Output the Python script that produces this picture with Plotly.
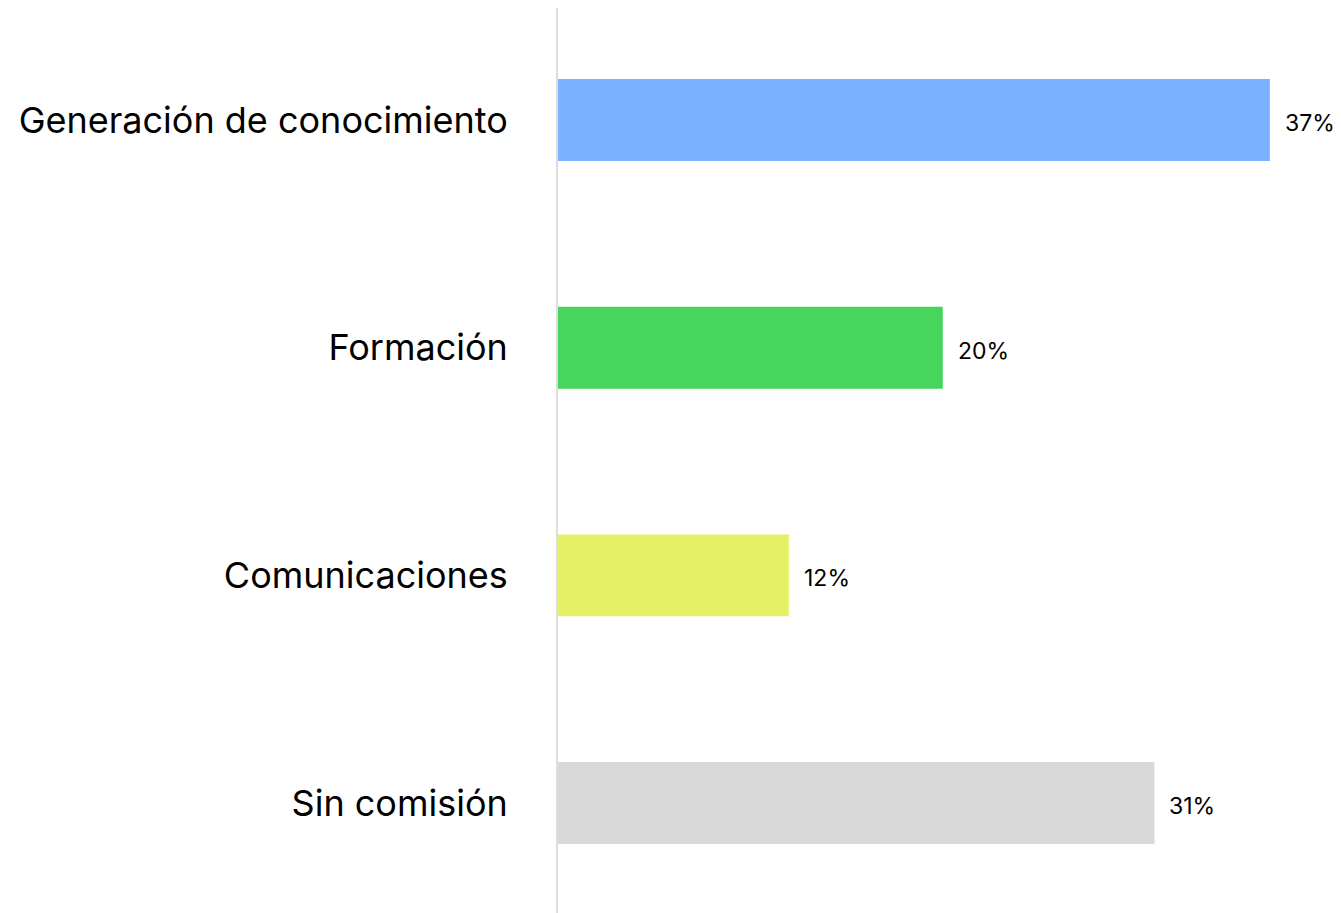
import plotly.graph_objects as go

categories = ["Generación de conocimiento", "Formación", "Comunicaciones", "Sin comisión"]
values = [37, 20, 12, 31]
value_labels = ["37%", "20%", "12%", "31%"]
colors = ["#7AB2FF", "#48D55E", "#E5F066", "#D9D9D9"]

FONT = "Inter, Lato, 'Open Sans', sans-serif"

fig = go.Figure(
    go.Bar(
        y=categories,
        x=values,
        orientation="h",
        marker=dict(color=colors, line=dict(width=0)),
        width=0.36,
        hoverinfo="skip",
    )
)

for c, v, t in zip(categories, values, value_labels):
    fig.add_annotation(
        x=v, y=c, text=t, showarrow=False, xanchor="left", yanchor="middle",
        xshift=13, yshift=-3, font=dict(family=FONT, size=23, color="#000000"),
    )

fig.update_layout(
    width=1334,
    height=905,
    margin=dict(l=550, r=0, t=0, b=0),
    paper_bgcolor="white",
    plot_bgcolor="white",
    showlegend=False,
    xaxis=dict(
        range=[0, 40.75],
        showgrid=False,
        zeroline=False,
        showticklabels=False,
        showline=False,
        fixedrange=True,
    ),
    yaxis=dict(
        range=[3.483, -0.492],
        showgrid=False,
        zeroline=False,
        showline=True,
        linecolor="#DDDDDD",
        linewidth=2,
        ticks="",
        ticklabelstandoff=41,
        tickfont=dict(family=FONT, size=36, color="#000000"),
        fixedrange=True,
    ),
)

fig.write_html("out.html")
